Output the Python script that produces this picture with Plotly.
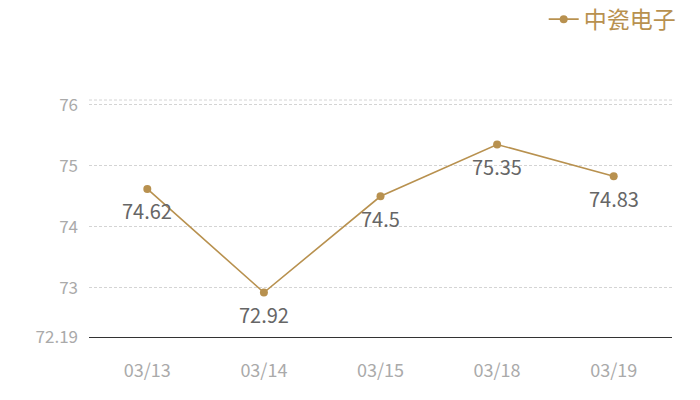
import plotly.graph_objects as go

dates = ["03/13", "03/14", "03/15", "03/18", "03/19"]
values = [74.62, 72.92, 74.5, 75.35, 74.83]
label_text = ["74.62", "72.92", "74.5", "75.35", "74.83"]
y_ticks = [72.19, 73, 74, 75, 76]
y_tick_text = ["72.19", "73", "74", "75", "76"]
series_name = "中瓷电子"

gold = "#B8914F"
font_family = "Noto Sans CJK SC, Noto Sans, sans-serif"

fig = go.Figure()
fig.add_trace(go.Scatter(
    x=dates, y=values, mode="lines+markers",
    name=series_name,
    line=dict(color=gold, width=1.6),
    marker=dict(color=gold, size=8),
    cliponaxis=False,
))

for d, v, t in zip(dates, values, label_text):
    fig.add_annotation(x=d, y=v, text=t, showarrow=False, yshift=-22,
                       font=dict(size=20, color="#666666", family=font_family))

# page body offset of 8px compensated in margins
fig.update_layout(
    width=700, height=400,
    margin=dict(l=81, r=36, t=92, b=71),
    paper_bgcolor="white", plot_bgcolor="white",
    font=dict(family=font_family),
    showlegend=True,
    legend=dict(x=0.961, xref="container", xanchor="right", y=0.972, yref="container",
                yanchor="middle", orientation="h", font=dict(size=23, color=gold),
                itemwidth=30, bgcolor="rgba(0,0,0,0)"),
    xaxis=dict(type="category", range=[-0.5, 4.5], showgrid=False, showline=True,
               linecolor="#333333", linewidth=1, ticks="",
               tickfont=dict(size=18, color="#aaaaaa"), ticklabelstandoff=17),
    yaxis=dict(range=[72.19, 76.08], tickvals=y_ticks, ticktext=y_tick_text,
               showgrid=True, gridcolor="#d4d4d4", griddash="3px,2px", gridwidth=1,
               zeroline=False, showline=False, ticks="",
               tickfont=dict(size=17, color="#aaaaaa"), ticklabelstandoff=10),
)
fig.add_shape(type="line", xref="paper", yref="paper", x0=0, x1=1, y0=1, y1=1,
              line=dict(color="#d4d4d4", width=1, dash="3px,2px"))

fig.write_html("out.html")
